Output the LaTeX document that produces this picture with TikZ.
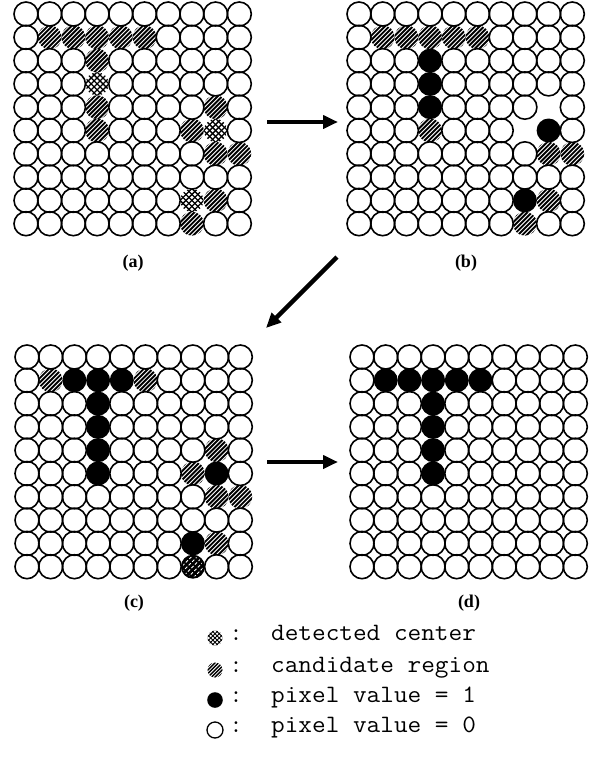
\documentclass[tikz,border=0pt]{standalone}
\usepackage{fontspec}
\newfontfamily\labelfont{Liberation Serif}
\usetikzlibrary{arrows.meta}
\tikzset{
  cellline/.style={line width=1.6pt},
  conn/.style={line width=4.5pt, -{Triangle[length=15pt,width=13pt]}},
  sublabel/.style={font=\labelfont\bfseries\fontsize{18}{22}\selectfont, inner sep=0pt},
  legtext/.style={font=\ttfamily\fontsize{25}{28}\selectfont, inner sep=0pt, anchor=mid west},
  legcolon/.style={font=\ttfamily\fontsize{25}{28}\selectfont, inner sep=0pt, anchor=mid},
}
\newcommand\wide[1]{\scalebox{1.06}[1]{#1}}
\def\DX{23.7}
\def\DY{23.3}
% hatched disc: x y r spacing lw halfcount
\newcommand\hatchdisc[6]{%
  \begin{scope}
    \clip (#1,#2) circle[radius=#3pt];
    \foreach \k in {-#6,...,#6}{
      \draw[line width=#5pt] ({#1+\k*#4*0.7071-#3},{#2+\k*#4*0.7071+#3}) -- ({#1+\k*#4*0.7071+#3},{#2+\k*#4*0.7071-#3});
    }
  \end{scope}}
\newcommand\crossdisc[6]{%
  \begin{scope}
    \clip (#1,#2) circle[radius=#3pt];
    \foreach \k in {-#6,...,#6}{
      \draw[line width=#5pt] ({#1+\k*#4*0.7071-#3},{#2+\k*#4*0.7071+#3}) -- ({#1+\k*#4*0.7071+#3},{#2+\k*#4*0.7071-#3});
      \draw[line width=#5pt] ({#1+\k*#4*0.7071-#3},{#2-\k*#4*0.7071-#3}) -- ({#1+\k*#4*0.7071+#3},{#2-\k*#4*0.7071+#3});
    }
  \end{scope}}
\newcommand\drawH[2]{\hatchdisc{#1}{#2}{12}{3.1}{1.9}{4}}
\newcommand\drawC[2]{\crossdisc{#1}{#2}{11.6}{4.2}{1.3}{3}}
\newcommand\drawB[2]{\fill (#1,#2) circle[radius=12pt];}
\newcommand\drawX[2]{}
\newcommand\drawK[2]{\fill (#1,#2) circle[radius=12pt];
  \begin{scope}
    \clip (#1,#2) circle[radius=10pt];
    \foreach \k in {-3,...,3}{
      \draw[white,line width=0.9pt,dash pattern=on 3pt off 2pt] ({#1+\k*2.83-12},{#2+\k*2.83+12}) -- ({#1+\k*2.83+12},{#2+\k*2.83-12});
    }
  \end{scope}}
% special cells: grid row col type
\newcommand\spc[4]{\expandafter\def\csname sp#1-#2-#3\endcsname{#4}}
\newcommand\drawgrid[3]{%
  \foreach \rw in {0,...,9}{
    \foreach \cl in {0,...,9}{
      \pgfmathsetmacro\cx{#2+\cl*\DX}
      \pgfmathsetmacro\cy{#3+\rw*\DY}
      \ifcsname sp#1-\rw-\cl\endcsname
        \csname draw\csname sp#1-\rw-\cl\endcsname\endcsname{\cx}{\cy}
      \else
        \draw[cellline] (\cx,\cy) circle[radius=12pt];
      \fi
    }
  }}
% grid a
\spc{a}{1}{1}{H}\spc{a}{1}{2}{H}\spc{a}{1}{3}{H}\spc{a}{1}{4}{H}\spc{a}{1}{5}{H}
\spc{a}{2}{3}{H}\spc{a}{3}{3}{C}\spc{a}{4}{3}{H}\spc{a}{5}{3}{H}
\spc{a}{4}{8}{H}\spc{a}{5}{7}{H}\spc{a}{5}{8}{C}\spc{a}{6}{8}{H}\spc{a}{6}{9}{H}
\spc{a}{8}{7}{C}\spc{a}{8}{8}{H}\spc{a}{9}{7}{H}
% grid b
\spc{b}{1}{1}{H}\spc{b}{1}{2}{H}\spc{b}{1}{3}{H}\spc{b}{1}{4}{H}\spc{b}{1}{5}{H}
\spc{b}{2}{3}{B}\spc{b}{3}{3}{B}\spc{b}{4}{3}{B}\spc{b}{5}{3}{H}
\spc{b}{4}{8}{X}\spc{b}{5}{7}{X}\spc{b}{5}{8}{B}\spc{b}{6}{8}{H}\spc{b}{6}{9}{H}
\spc{b}{8}{7}{B}\spc{b}{8}{8}{H}\spc{b}{9}{7}{H}
% grid c
\spc{c}{1}{1}{H}\spc{c}{1}{2}{B}\spc{c}{1}{3}{B}\spc{c}{1}{4}{B}\spc{c}{1}{5}{H}
\spc{c}{2}{3}{B}\spc{c}{3}{3}{B}\spc{c}{4}{3}{B}\spc{c}{5}{3}{B}
\spc{c}{4}{8}{H}\spc{c}{5}{7}{H}\spc{c}{5}{8}{B}\spc{c}{6}{8}{H}\spc{c}{6}{9}{H}
\spc{c}{8}{7}{B}\spc{c}{8}{8}{H}\spc{c}{9}{7}{K}
% grid d
\spc{d}{1}{1}{B}\spc{d}{1}{2}{B}\spc{d}{1}{3}{B}\spc{d}{1}{4}{B}\spc{d}{1}{5}{B}
\spc{d}{2}{3}{B}\spc{d}{3}{3}{B}\spc{d}{4}{3}{B}\spc{d}{5}{3}{B}
\begin{document}
\begin{tikzpicture}[x=1pt,y=-1pt]
\useasboundingbox (0,0) rectangle (608,758);
\fill[white] (0,0) rectangle (608,758);
\drawgrid{a}{26}{14}
\drawgrid{b}{359}{14}
\drawgrid{c}{27}{357}
\drawgrid{d}{362}{357}
\node[sublabel] (la) at (133,263) {(a)};
\node[sublabel] (lb) at (466,263) {(b)};
\node[sublabel] (lc) at (134,603) {(c)};
\node[sublabel] (ld) at (469,603) {(d)};
\coordinate (ab1) at (267,122); \coordinate (ab2) at (338,122);
\coordinate (bc1) at (337,257); \coordinate (bc2) at (266,328);
\coordinate (cd1) at (267,462); \coordinate (cd2) at (338,462);
\draw[conn] (ab1) -- (ab2);
\draw[conn] (bc1) -- (bc2);
\draw[conn] (cd1) -- (cd2);
% legend
\crossdisc{215}{638}{7.5}{3}{1}{3}
\hatchdisc{215}{670}{7.5}{2.5}{1.4}{4}
\fill (215,700) circle[radius=7.8pt];
\draw[line width=1.3pt] (215,730) circle[radius=8pt];
\node[legcolon] (c1) at (236,638) {:};
\node[legcolon] (c2) at (236,670) {:};
\node[legcolon] (c3) at (236,700) {:};
\node[legcolon] (c4) at (236,730) {:};
\node[legtext] (t1) at (271,638) {\wide{detected center}};
\node[legtext] (t2) at (271,670) {\wide{candidate region}};
\node[legtext] (t3) at (271,700) {\wide{pixel value = 1}};
\node[legtext] (t4) at (271,730) {\wide{pixel value = 0}};
\end{tikzpicture}
\end{document}
